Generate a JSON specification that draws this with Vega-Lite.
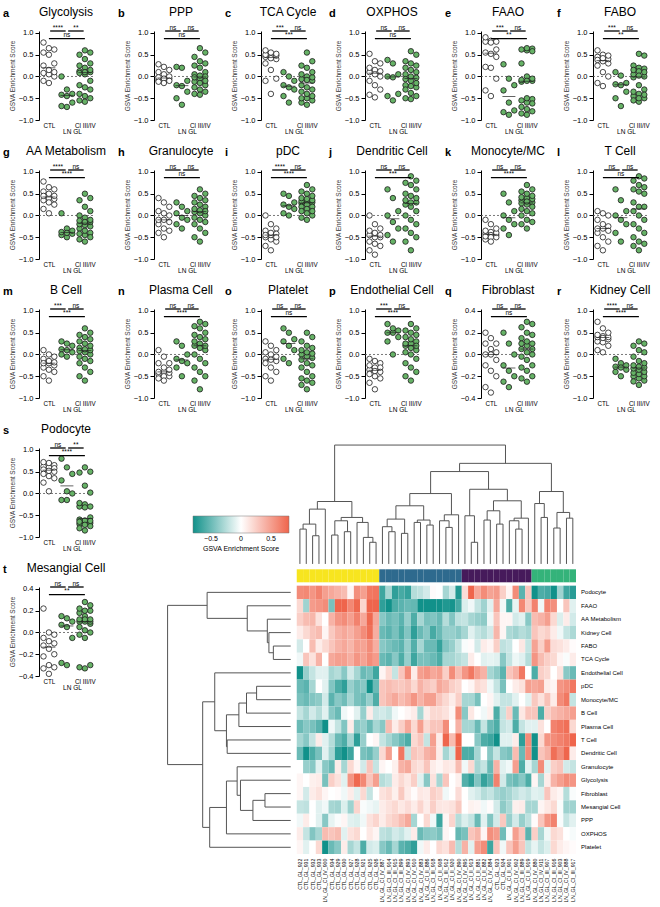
{
"$schema":"https://vega.github.io/schema/vega-lite/v6.json",
"padding":{"left":3,"top":6,"right":0,"bottom":0},
"background":"white",
"config":{"view":{"stroke":null},"font":"Liberation Sans","axis":{"domainColor":"#000","tickColor":"#000","labelColor":"#000"}},
"datasets":{
"feats":[
{"f":"POD","name":"Podocyte","L":"s","m":1,"r":0},{"f":"FAAO","name":"FAAO","L":"e","m":1,"r":1},{"f":"AA","name":"AA Metabolism","L":"g","m":1,"r":2},{"f":"KID","name":"Kidney Cell","L":"r","m":1,"r":3},{"f":"FABO","name":"FABO","L":"f","m":1,"r":4},{"f":"TCA","name":"TCA Cycle","L":"c","m":1,"r":5},{"f":"END","name":"Endothelial Cell","L":"p","m":1,"r":6},{"f":"PDC","name":"pDC","L":"i","m":1,"r":7},{"f":"MON","name":"Monocyte/MC","L":"k","m":1,"r":8},{"f":"BC","name":"B Cell","L":"m","m":1,"r":9},{"f":"PC","name":"Plasma Cell","L":"n","m":1,"r":10},{"f":"TC","name":"T Cell","L":"l","m":1,"r":11},{"f":"DC","name":"Dendritic Cell","L":"j","m":1,"r":12},{"f":"GRA","name":"Granulocyte","L":"h","m":1,"r":13},{"f":"GLY","name":"Glycolysis","L":"a","m":1,"r":14},{"f":"FIB","name":"Fibroblast","L":"q","m":0.4,"r":15},{"f":"MES","name":"Mesangial Cell","L":"t","m":0.4,"r":16},{"f":"PPP","name":"PPP","L":"b","m":1,"r":17},{"f":"OX","name":"OXPHOS","L":"d","m":1,"r":18},{"f":"PLT","name":"Platelet","L":"o","m":1,"r":19}
],
"samples":[
{"o":0,"s":922,"n":"CTL_GL_922","g":"CTL","k":1},{"o":1,"s":931,"n":"CTL_GL_931","g":"CTL","k":1},{"o":2,"s":932,"n":"CTL_GL_932","g":"CTL","k":1},{"o":3,"s":933,"n":"CTL_GL_933","g":"CTL","k":1},{"o":4,"s":900,"n":"LN_GL_CI_IV_900","g":"Cl III/IV","k":1},{"o":5,"s":934,"n":"CTL_GL_934","g":"CTL","k":1},{"o":6,"s":929,"n":"CTL_GL_929","g":"CTL","k":1},{"o":7,"s":930,"n":"CTL_GL_930","g":"CTL","k":1},{"o":8,"s":927,"n":"CTL_GL_927","g":"CTL","k":1},{"o":9,"s":928,"n":"CTL_GL_928","g":"CTL","k":1},{"o":10,"s":921,"n":"CTL_GL_921","g":"CTL","k":1},{"o":11,"s":925,"n":"CTL_GL_925","g":"CTL","k":1},{"o":12,"s":926,"n":"CTL_GL_926","g":"CTL","k":1},
{"o":13,"s":887,"n":"LN_GL_CI_IV_887","g":"Cl III/IV","k":2},{"o":14,"s":914,"n":"LN_GL_CI_III_914","g":"Cl III/IV","k":2},{"o":15,"s":915,"n":"LN_GL_CI_III_915","g":"Cl III/IV","k":2},{"o":16,"s":899,"n":"LN_GL_CI_III_899","g":"Cl III/IV","k":2},{"o":17,"s":893,"n":"LN_GL_CI_IV_893","g":"Cl III/IV","k":2},{"o":18,"s":910,"n":"LN_GL_CI_IV_910","g":"Cl III/IV","k":2},{"o":19,"s":883,"n":"LN_GL_CI_IV_883","g":"Cl III/IV","k":2},{"o":20,"s":886,"n":"LN_GL_CI_II_886","g":"Cl II","k":2},{"o":21,"s":918,"n":"LN_GL_CI_III_918","g":"Cl III/IV","k":2},{"o":22,"s":908,"n":"LN_GL_CI_II_908","g":"Cl II","k":2},{"o":23,"s":912,"n":"LN_GL_CI_III_912","g":"Cl III/IV","k":2},{"o":24,"s":920,"n":"LN_GL_CI_II_920","g":"Cl II","k":2},{"o":25,"s":890,"n":"LN_GL_CI_IV_890","g":"Cl III/IV","k":2},
{"o":26,"s":895,"n":"LN_GL_CI_IV_895","g":"Cl III/IV","k":3},{"o":27,"s":913,"n":"LN_GL_CI_II_913","g":"Cl II","k":3},{"o":28,"s":881,"n":"LN_GL_CI_II_881","g":"Cl II","k":3},{"o":29,"s":882,"n":"LN_GL_CI_II_882","g":"Cl II","k":3},{"o":30,"s":884,"n":"LN_GL_CI_IV_884","g":"Cl III/IV","k":3},{"o":31,"s":923,"n":"CTL_GL_923","g":"CTL","k":3},{"o":32,"s":924,"n":"CTL_GL_924","g":"CTL","k":3},{"o":33,"s":901,"n":"LN_GL_CI_II_901","g":"Cl II","k":3},{"o":34,"s":902,"n":"LN_GL_CI_IV_902","g":"Cl III/IV","k":3},{"o":35,"s":889,"n":"LN_GL_CI_III_889","g":"Cl III/IV","k":3},{"o":36,"s":919,"n":"LN_GL_CI_II_919","g":"Cl II","k":3},
{"o":37,"s":880,"n":"LN_GL_CI_IV_880","g":"Cl III/IV","k":4},{"o":38,"s":911,"n":"LN_GL_CI_IV_911","g":"Cl III/IV","k":4},{"o":39,"s":907,"n":"LN_GL_CI_III_907","g":"Cl III/IV","k":4},{"o":40,"s":916,"n":"LN_GL_CI_III_916","g":"Cl III/IV","k":4},{"o":41,"s":903,"n":"LN_GL_CI_III_903","g":"Cl III/IV","k":4},{"o":42,"s":888,"n":"LN_GL_CI_IV_888","g":"Cl III/IV","k":4},{"o":43,"s":917,"n":"LN_GL_CI_III_917","g":"Cl III/IV","k":4}
],
"cden":[
{"xl":0.5,"xr":1.5,"h":2.93,"hl":0,"hr":0},{"xl":2.5,"xr":3.5,"h":2.37,"hl":0,"hr":0},{"xl":1.0,"xr":3.0,"h":3.35,"hl":2.93,"hr":2.37},{"xl":2.0,"xr":4.5,"h":4.61,"hl":3.35,"hr":0},{"xl":5.5,"xr":6.5,"h":2.43,"hl":0,"hr":0},{"xl":7.5,"xr":8.5,"h":2.71,"hl":0,"hr":0},{"xl":6.0,"xr":8.0,"h":3.63,"hl":2.43,"hr":2.71},{"xl":11.5,"xr":12.5,"h":1.82,"hl":0,"hr":0},{"xl":10.5,"xr":12.0,"h":2.23,"hl":0,"hr":1.82},{"xl":9.5,"xr":11.25,"h":3.49,"hl":0,"hr":2.23},{"xl":7.0,"xr":10.375,"h":3.91,"hl":3.63,"hr":3.49},{"xl":3.25,"xr":8.6875,"h":5.25,"hl":4.61,"hr":3.91},
{"xl":14.5,"xr":15.5,"h":2.71,"hl":0,"hr":0},{"xl":13.5,"xr":15.0,"h":3.13,"hl":0,"hr":2.71},{"xl":16.5,"xr":17.5,"h":2.57,"hl":0,"hr":0},{"xl":14.25,"xr":17.0,"h":3.77,"hl":3.13,"hr":2.57},{"xl":18.5,"xr":19.5,"h":3.49,"hl":0,"hr":0},{"xl":20.5,"xr":21.5,"h":3.27,"hl":0,"hr":0},{"xl":19.0,"xr":21.0,"h":3.69,"hl":3.49,"hr":3.27},{"xl":15.625,"xr":20.0,"h":4.89,"hl":3.77,"hr":3.69},{"xl":23.5,"xr":24.5,"h":3.07,"hl":0,"hr":0},{"xl":22.5,"xr":24.0,"h":3.63,"hl":0,"hr":3.07},{"xl":23.25,"xr":25.5,"h":4.13,"hl":3.63,"hr":0},{"xl":17.8125,"xr":24.375,"h":5.92,"hl":4.89,"hr":4.13},
{"xl":27.5,"xr":28.5,"h":1.82,"hl":0,"hr":0},{"xl":26.5,"xr":28.0,"h":4.05,"hl":0,"hr":1.82},{"xl":29.5,"xr":30.5,"h":3.69,"hl":0,"hr":0},{"xl":31.5,"xr":32.5,"h":3.35,"hl":0,"hr":0},{"xl":30.0,"xr":32.0,"h":4.47,"hl":3.69,"hr":3.35},{"xl":34.5,"xr":35.5,"h":2.93,"hl":0,"hr":0},{"xl":33.5,"xr":35.0,"h":3.63,"hl":0,"hr":2.93},{"xl":34.25,"xr":36.5,"h":3.85,"hl":3.63,"hr":0},{"xl":31.0,"xr":35.375,"h":5.31,"hl":4.47,"hr":3.85},{"xl":27.25,"xr":33.1875,"h":6.28,"hl":4.05,"hr":5.31},
{"xl":38.5,"xr":39.5,"h":3.91,"hl":0,"hr":0},{"xl":37.5,"xr":39.0,"h":5.08,"hl":0,"hr":3.91},{"xl":40.5,"xr":41.5,"h":3.02,"hl":0,"hr":0},{"xl":42.5,"xr":43.5,"h":3.85,"hl":0,"hr":0},{"xl":41.0,"xr":43.0,"h":4.33,"hl":3.02,"hr":3.85},{"xl":38.25,"xr":42.0,"h":6.09,"hl":5.08,"hr":4.33},
{"xl":21.09375,"xr":30.21875,"h":7.77,"hl":5.92,"hr":6.28},{"xl":25.65625,"xr":40.125,"h":8.46,"hl":7.77,"hr":6.09},{"xl":5.96875,"xr":32.890625,"h":10,"hl":5.25,"hr":8.46}
],
"rden":[
{"yt":4.5,"yb":5.5,"h":1.41,"ht":0,"hb":0},{"yt":3.5,"yb":5.0,"h":1.77,"ht":0,"hb":1.41},{"yt":2.5,"yb":4.25,"h":1.90,"ht":0,"hb":1.77},{"yt":1.5,"yb":3.375,"h":3.53,"ht":0,"hb":1.90},{"yt":0.5,"yb":2.4375,"h":6.79,"ht":0,"hb":3.53},
{"yt":7.5,"yb":8.5,"h":2.77,"ht":0,"hb":0},{"yt":8.0,"yb":9.5,"h":3.59,"ht":2.77,"hb":0},{"yt":8.75,"yb":10.5,"h":4.21,"ht":3.59,"hb":0},{"yt":11.5,"yb":12.5,"h":5.16,"ht":0,"hb":0},{"yt":9.625,"yb":12.0,"h":5.22,"ht":4.21,"hb":5.16},{"yt":6.5,"yb":10.8125,"h":6.17,"ht":0,"hb":5.22},
{"yt":15.5,"yb":16.5,"h":2.09,"ht":0,"hb":0},{"yt":16.0,"yb":17.5,"h":3.07,"ht":2.09,"hb":0},{"yt":14.5,"yb":16.75,"h":4.08,"ht":0,"hb":3.07},{"yt":13.5,"yb":15.625,"h":4.35,"ht":0,"hb":4.08},{"yt":14.5625,"yb":18.5,"h":5.22,"ht":4.35,"hb":0},{"yt":16.53125,"yb":19.5,"h":6.58,"ht":5.22,"hb":0},
{"yt":8.65625,"yb":18.015625,"h":7.15,"ht":6.17,"hb":6.58},{"yt":1.46875,"yb":13.3359,"h":10,"ht":6.79,"hb":7.15}
],
"gsva":[
{"s":922,"f":"POD","v":0.6},{"s":931,"f":"POD","v":0.62},{"s":932,"f":"POD","v":0.55},{"s":933,"f":"POD","v":0.65},{"s":900,"f":"POD","v":0.5},{"s":934,"f":"POD","v":0.45},{"s":929,"f":"POD","v":0.4},{"s":930,"f":"POD","v":0.35},{"s":927,"f":"POD","v":0.05},{"s":928,"f":"POD","v":0.58},{"s":921,"f":"POD","v":0.5},{"s":925,"f":"POD","v":0.7},{"s":926,"f":"POD","v":0.72},{"s":887,"f":"POD","v":-0.65},{"s":914,"f":"POD","v":-0.3},{"s":915,"f":"POD","v":-0.7},{"s":899,"f":"POD","v":-0.62},{"s":893,"f":"POD","v":-0.68},{"s":910,"f":"POD","v":-0.25},{"s":883,"f":"POD","v":-0.22},{"s":886,"f":"POD","v":-0.15},{"s":918,"f":"POD","v":0.02},{"s":908,"f":"POD","v":0.0},{"s":912,"f":"POD","v":-0.3},{"s":920,"f":"POD","v":-0.15},{"s":890,"f":"POD","v":-0.75},{"s":895,"f":"POD","v":0.18},{"s":913,"f":"POD","v":0.8},{"s":881,"f":"POD","v":0.45},{"s":882,"f":"POD","v":0.6},{"s":884,"f":"POD","v":0.48},{"s":923,"f":"POD","v":0.52},{"s":924,"f":"POD","v":0.25},{"s":901,"f":"POD","v":0.05},{"s":902,"f":"POD","v":0.6},{"s":889,"f":"POD","v":-0.55},{"s":919,"f":"POD","v":0.3},{"s":880,"f":"POD","v":-0.85},{"s":911,"f":"POD","v":-0.6},{"s":907,"f":"POD","v":-0.63},{"s":916,"f":"POD","v":-0.8},{"s":903,"f":"POD","v":-0.32},{"s":888,"f":"POD","v":-0.65},{"s":917,"f":"POD","v":-0.72},
{"s":922,"f":"FAAO","v":0.2},{"s":931,"f":"FAAO","v":-0.32},{"s":932,"f":"FAAO","v":0.52},{"s":933,"f":"FAAO","v":0.55},{"s":900,"f":"FAAO","v":0.6},{"s":934,"f":"FAAO","v":-0.45},{"s":929,"f":"FAAO","v":0.82},{"s":930,"f":"FAAO","v":0.8},{"s":927,"f":"FAAO","v":0.62},{"s":928,"f":"FAAO","v":0.78},{"s":921,"f":"FAAO","v":0.22},{"s":925,"f":"FAAO","v":0.9},{"s":926,"f":"FAAO","v":0.8},{"s":887,"f":"FAAO","v":-0.7},{"s":914,"f":"FAAO","v":-0.85},{"s":915,"f":"FAAO","v":-0.6},{"s":899,"f":"FAAO","v":-0.55},{"s":893,"f":"FAAO","v":-0.5},{"s":910,"f":"FAAO","v":-0.52},{"s":883,"f":"FAAO","v":-0.88},{"s":886,"f":"FAAO","v":-0.82},{"s":918,"f":"FAAO","v":-0.8},{"s":908,"f":"FAAO","v":-0.88},{"s":912,"f":"FAAO","v":-0.75},{"s":920,"f":"FAAO","v":-0.78},{"s":890,"f":"FAAO","v":-0.62},{"s":895,"f":"FAAO","v":-0.12},{"s":913,"f":"FAAO","v":-0.05},{"s":881,"f":"FAAO","v":-0.2},{"s":882,"f":"FAAO","v":-0.32},{"s":884,"f":"FAAO","v":-0.1},{"s":923,"f":"FAAO","v":0.45},{"s":924,"f":"FAAO","v":-0.05},{"s":901,"f":"FAAO","v":-0.6},{"s":902,"f":"FAAO","v":-0.08},{"s":889,"f":"FAAO","v":0.62},{"s":919,"f":"FAAO","v":0.28},{"s":880,"f":"FAAO","v":0.65},{"s":911,"f":"FAAO","v":-0.05},{"s":907,"f":"FAAO","v":0.64},{"s":916,"f":"FAAO","v":0.58},{"s":903,"f":"FAAO","v":0.0},{"s":888,"f":"FAAO","v":0.3},{"s":917,"f":"FAAO","v":-0.1},
{"s":922,"f":"AA","v":0.25},{"s":931,"f":"AA","v":0.35},{"s":932,"f":"AA","v":0.38},{"s":933,"f":"AA","v":0.15},{"s":900,"f":"AA","v":0.0},{"s":934,"f":"AA","v":0.4},{"s":929,"f":"AA","v":0.55},{"s":930,"f":"AA","v":0.6},{"s":927,"f":"AA","v":0.5},{"s":928,"f":"AA","v":0.65},{"s":921,"f":"AA","v":0.45},{"s":925,"f":"AA","v":0.78},{"s":926,"f":"AA","v":0.45},{"s":887,"f":"AA","v":-0.4},{"s":914,"f":"AA","v":-0.5},{"s":915,"f":"AA","v":-0.45},{"s":899,"f":"AA","v":-0.55},{"s":893,"f":"AA","v":-0.35},{"s":910,"f":"AA","v":-0.6},{"s":883,"f":"AA","v":-0.3},{"s":886,"f":"AA","v":-0.45},{"s":918,"f":"AA","v":-0.42},{"s":908,"f":"AA","v":-0.5},{"s":912,"f":"AA","v":-0.25},{"s":920,"f":"AA","v":-0.42},{"s":890,"f":"AA","v":-0.22},{"s":895,"f":"AA","v":-0.2},{"s":913,"f":"AA","v":-0.3},{"s":881,"f":"AA","v":-0.35},{"s":882,"f":"AA","v":-0.38},{"s":884,"f":"AA","v":-0.05},{"s":923,"f":"AA","v":0.3},{"s":924,"f":"AA","v":0.05},{"s":901,"f":"AA","v":0.05},{"s":902,"f":"AA","v":-0.15},{"s":889,"f":"AA","v":-0.1},{"s":919,"f":"AA","v":-0.4},{"s":880,"f":"AA","v":0.35},{"s":911,"f":"AA","v":0.4},{"s":907,"f":"AA","v":0.5},{"s":916,"f":"AA","v":0.2},{"s":903,"f":"AA","v":-0.12},{"s":888,"f":"AA","v":0.1},{"s":917,"f":"AA","v":-0.15},
{"s":922,"f":"KID","v":0.1},{"s":931,"f":"KID","v":0.2},{"s":932,"f":"KID","v":0.3},{"s":933,"f":"KID","v":0.35},{"s":900,"f":"KID","v":0.05},{"s":934,"f":"KID","v":0.28},{"s":929,"f":"KID","v":0.4},{"s":930,"f":"KID","v":0.45},{"s":927,"f":"KID","v":0.4},{"s":928,"f":"KID","v":0.5},{"s":921,"f":"KID","v":0.6},{"s":925,"f":"KID","v":0.75},{"s":926,"f":"KID","v":0.42},{"s":887,"f":"KID","v":-0.5},{"s":914,"f":"KID","v":-0.55},{"s":915,"f":"KID","v":-0.45},{"s":899,"f":"KID","v":-0.6},{"s":893,"f":"KID","v":-0.42},{"s":910,"f":"KID","v":-0.7},{"s":883,"f":"KID","v":-0.5},{"s":886,"f":"KID","v":-0.4},{"s":918,"f":"KID","v":-0.62},{"s":908,"f":"KID","v":-0.5},{"s":912,"f":"KID","v":-0.35},{"s":920,"f":"KID","v":-0.35},{"s":890,"f":"KID","v":-0.4},{"s":895,"f":"KID","v":-0.3},{"s":913,"f":"KID","v":-0.1},{"s":881,"f":"KID","v":-0.2},{"s":882,"f":"KID","v":-0.25},{"s":884,"f":"KID","v":-0.15},{"s":923,"f":"KID","v":0.38},{"s":924,"f":"KID","v":0.05},{"s":901,"f":"KID","v":-0.28},{"s":902,"f":"KID","v":-0.32},{"s":889,"f":"KID","v":-0.25},{"s":919,"f":"KID","v":-0.3},{"s":880,"f":"KID","v":0.3},{"s":911,"f":"KID","v":0.2},{"s":907,"f":"KID","v":0.25},{"s":916,"f":"KID","v":0.1},{"s":903,"f":"KID","v":-0.05},{"s":888,"f":"KID","v":-0.2},{"s":917,"f":"KID","v":-0.28},
{"s":922,"f":"FABO","v":-0.15},{"s":931,"f":"FABO","v":0.0},{"s":932,"f":"FABO","v":0.35},{"s":933,"f":"FABO","v":0.1},{"s":900,"f":"FABO","v":0.2},{"s":934,"f":"FABO","v":0.3},{"s":929,"f":"FABO","v":0.4},{"s":930,"f":"FABO","v":0.45},{"s":927,"f":"FABO","v":0.38},{"s":928,"f":"FABO","v":0.5},{"s":921,"f":"FABO","v":0.48},{"s":925,"f":"FABO","v":0.6},{"s":926,"f":"FABO","v":0.42},{"s":887,"f":"FABO","v":-0.4},{"s":914,"f":"FABO","v":-0.45},{"s":915,"f":"FABO","v":-0.5},{"s":899,"f":"FABO","v":-0.55},{"s":893,"f":"FABO","v":-0.35},{"s":910,"f":"FABO","v":-0.58},{"s":883,"f":"FABO","v":-0.3},{"s":886,"f":"FABO","v":-0.5},{"s":918,"f":"FABO","v":-0.5},{"s":908,"f":"FABO","v":-0.68},{"s":912,"f":"FABO","v":-0.42},{"s":920,"f":"FABO","v":-0.35},{"s":890,"f":"FABO","v":-0.2},{"s":895,"f":"FABO","v":-0.02},{"s":913,"f":"FABO","v":0.02},{"s":881,"f":"FABO","v":-0.15},{"s":882,"f":"FABO","v":0.1},{"s":884,"f":"FABO","v":0.05},{"s":923,"f":"FABO","v":0.25},{"s":924,"f":"FABO","v":-0.22},{"s":901,"f":"FABO","v":-0.18},{"s":902,"f":"FABO","v":0.0},{"s":889,"f":"FABO","v":0.12},{"s":919,"f":"FABO","v":-0.2},{"s":880,"f":"FABO","v":0.48},{"s":911,"f":"FABO","v":0.25},{"s":907,"f":"FABO","v":0.52},{"s":916,"f":"FABO","v":0.18},{"s":903,"f":"FABO","v":0.15},{"s":888,"f":"FABO","v":0.1},{"s":917,"f":"FABO","v":0.02},
{"s":922,"f":"TCA","v":-0.05},{"s":931,"f":"TCA","v":0.3},{"s":932,"f":"TCA","v":0.15},{"s":933,"f":"TCA","v":0.4},{"s":900,"f":"TCA","v":0.0},{"s":934,"f":"TCA","v":0.45},{"s":929,"f":"TCA","v":0.5},{"s":930,"f":"TCA","v":0.5},{"s":927,"f":"TCA","v":0.42},{"s":928,"f":"TCA","v":0.55},{"s":921,"f":"TCA","v":0.48},{"s":925,"f":"TCA","v":0.6},{"s":926,"f":"TCA","v":0.52},{"s":887,"f":"TCA","v":-0.5},{"s":914,"f":"TCA","v":-0.55},{"s":915,"f":"TCA","v":-0.4},{"s":899,"f":"TCA","v":-0.6},{"s":893,"f":"TCA","v":-0.35},{"s":910,"f":"TCA","v":-0.65},{"s":883,"f":"TCA","v":-0.45},{"s":886,"f":"TCA","v":-0.45},{"s":918,"f":"TCA","v":-0.5},{"s":908,"f":"TCA","v":-0.6},{"s":912,"f":"TCA","v":-0.3},{"s":920,"f":"TCA","v":-0.3},{"s":890,"f":"TCA","v":-0.25},{"s":895,"f":"TCA","v":-0.2},{"s":913,"f":"TCA","v":0.1},{"s":881,"f":"TCA","v":0.0},{"s":882,"f":"TCA","v":-0.1},{"s":884,"f":"TCA","v":-0.08},{"s":923,"f":"TCA","v":-0.1},{"s":924,"f":"TCA","v":-0.4},{"s":901,"f":"TCA","v":-0.2},{"s":902,"f":"TCA","v":-0.06},{"s":889,"f":"TCA","v":-0.1},{"s":919,"f":"TCA","v":-0.25},{"s":880,"f":"TCA","v":0.55},{"s":911,"f":"TCA","v":0.35},{"s":907,"f":"TCA","v":0.25},{"s":916,"f":"TCA","v":0.2},{"s":903,"f":"TCA","v":0.05},{"s":888,"f":"TCA","v":-0.02},{"s":917,"f":"TCA","v":0.1},
{"s":922,"f":"END","v":-0.8},{"s":931,"f":"END","v":-0.35},{"s":932,"f":"END","v":-0.2},{"s":933,"f":"END","v":-0.1},{"s":900,"f":"END","v":-0.1},{"s":934,"f":"END","v":-0.3},{"s":929,"f":"END","v":-0.25},{"s":930,"f":"END","v":-0.4},{"s":927,"f":"END","v":-0.15},{"s":928,"f":"END","v":-0.3},{"s":921,"f":"END","v":-0.5},{"s":925,"f":"END","v":-0.45},{"s":926,"f":"END","v":-0.65},{"s":887,"f":"END","v":0.05},{"s":914,"f":"END","v":0.2},{"s":915,"f":"END","v":-0.2},{"s":899,"f":"END","v":0.3},{"s":893,"f":"END","v":0.6},{"s":910,"f":"END","v":0.1},{"s":883,"f":"END","v":0.5},{"s":886,"f":"END","v":0.55},{"s":918,"f":"END","v":0.45},{"s":908,"f":"END","v":0.5},{"s":912,"f":"END","v":0.25},{"s":920,"f":"END","v":0.6},{"s":890,"f":"END","v":0.35},{"s":895,"f":"END","v":0.55},{"s":913,"f":"END","v":0.7},{"s":881,"f":"END","v":0.5},{"s":882,"f":"END","v":0.4},{"s":884,"f":"END","v":-0.3},{"s":923,"f":"END","v":-0.38},{"s":924,"f":"END","v":-0.55},{"s":901,"f":"END","v":0.3},{"s":902,"f":"END","v":0.4},{"s":889,"f":"END","v":0.7},{"s":919,"f":"END","v":0.0},{"s":880,"f":"END","v":-0.6},{"s":911,"f":"END","v":0.25},{"s":907,"f":"END","v":0.2},{"s":916,"f":"END","v":0.0},{"s":903,"f":"END","v":0.15},{"s":888,"f":"END","v":-0.4},{"s":917,"f":"END","v":-0.5},
{"s":922,"f":"PDC","v":-0.5},{"s":931,"f":"PDC","v":-0.55},{"s":932,"f":"PDC","v":-0.3},{"s":933,"f":"PDC","v":0.0},{"s":900,"f":"PDC","v":-0.1},{"s":934,"f":"PDC","v":-0.42},{"s":929,"f":"PDC","v":-0.6},{"s":930,"f":"PDC","v":-0.7},{"s":927,"f":"PDC","v":-0.35},{"s":928,"f":"PDC","v":-0.45},{"s":921,"f":"PDC","v":-0.4},{"s":925,"f":"PDC","v":-0.8},{"s":926,"f":"PDC","v":-0.5},{"s":887,"f":"PDC","v":0.3},{"s":914,"f":"PDC","v":0.35},{"s":915,"f":"PDC","v":0.3},{"s":899,"f":"PDC","v":0.28},{"s":893,"f":"PDC","v":0.33},{"s":910,"f":"PDC","v":0.2},{"s":883,"f":"PDC","v":0.4},{"s":886,"f":"PDC","v":0.3},{"s":918,"f":"PDC","v":0.25},{"s":908,"f":"PDC","v":0.45},{"s":912,"f":"PDC","v":0.38},{"s":920,"f":"PDC","v":0.25},{"s":890,"f":"PDC","v":0.2},{"s":895,"f":"PDC","v":0.0},{"s":913,"f":"PDC","v":0.05},{"s":881,"f":"PDC","v":0.2},{"s":882,"f":"PDC","v":0.15},{"s":884,"f":"PDC","v":-0.05},{"s":923,"f":"PDC","v":-0.2},{"s":924,"f":"PDC","v":-0.45},{"s":901,"f":"PDC","v":0.0},{"s":902,"f":"PDC","v":0.1},{"s":889,"f":"PDC","v":0.15},{"s":919,"f":"PDC","v":0.5},{"s":880,"f":"PDC","v":0.45},{"s":911,"f":"PDC","v":0.5},{"s":907,"f":"PDC","v":0.1},{"s":916,"f":"PDC","v":0.05},{"s":903,"f":"PDC","v":0.55},{"s":888,"f":"PDC","v":0.6},{"s":917,"f":"PDC","v":0.7},
{"s":922,"f":"MON","v":-0.45},{"s":931,"f":"MON","v":-0.5},{"s":932,"f":"MON","v":-0.42},{"s":933,"f":"MON","v":-0.38},{"s":900,"f":"MON","v":-0.15},{"s":934,"f":"MON","v":-0.55},{"s":929,"f":"MON","v":-0.4},{"s":930,"f":"MON","v":-0.48},{"s":927,"f":"MON","v":-0.3},{"s":928,"f":"MON","v":-0.45},{"s":921,"f":"MON","v":-0.5},{"s":925,"f":"MON","v":-0.35},{"s":926,"f":"MON","v":-0.6},{"s":887,"f":"MON","v":0.3},{"s":914,"f":"MON","v":0.38},{"s":915,"f":"MON","v":0.45},{"s":899,"f":"MON","v":0.35},{"s":893,"f":"MON","v":0.42},{"s":910,"f":"MON","v":0.55},{"s":883,"f":"MON","v":0.4},{"s":886,"f":"MON","v":0.5},{"s":918,"f":"MON","v":0.5},{"s":908,"f":"MON","v":0.3},{"s":912,"f":"MON","v":0.2},{"s":920,"f":"MON","v":0.1},{"s":890,"f":"MON","v":0.25},{"s":895,"f":"MON","v":-0.3},{"s":913,"f":"MON","v":-0.3},{"s":881,"f":"MON","v":-0.45},{"s":882,"f":"MON","v":0.0},{"s":884,"f":"MON","v":0.05},{"s":923,"f":"MON","v":-0.1},{"s":924,"f":"MON","v":-0.2},{"s":901,"f":"MON","v":-0.2},{"s":902,"f":"MON","v":-0.1},{"s":889,"f":"MON","v":0.0},{"s":919,"f":"MON","v":-0.1},{"s":880,"f":"MON","v":0.28},{"s":911,"f":"MON","v":0.15},{"s":907,"f":"MON","v":0.32},{"s":916,"f":"MON","v":0.1},{"s":903,"f":"MON","v":0.6},{"s":888,"f":"MON","v":0.7},{"s":917,"f":"MON","v":-0.2},
{"s":922,"f":"BC","v":-0.2},{"s":931,"f":"BC","v":-0.3},{"s":932,"f":"BC","v":-0.15},{"s":933,"f":"BC","v":-0.25},{"s":900,"f":"BC","v":-0.1},{"s":934,"f":"BC","v":-0.4},{"s":929,"f":"BC","v":-0.5},{"s":930,"f":"BC","v":-0.05},{"s":927,"f":"BC","v":0.0},{"s":928,"f":"BC","v":-0.1},{"s":921,"f":"BC","v":-0.35},{"s":925,"f":"BC","v":0.1},{"s":926,"f":"BC","v":-0.18},{"s":887,"f":"BC","v":-0.15},{"s":914,"f":"BC","v":-0.2},{"s":915,"f":"BC","v":-0.05},{"s":899,"f":"BC","v":0.0},{"s":893,"f":"BC","v":0.05},{"s":910,"f":"BC","v":0.1},{"s":883,"f":"BC","v":-0.3},{"s":886,"f":"BC","v":0.1},{"s":918,"f":"BC","v":0.2},{"s":908,"f":"BC","v":0.2},{"s":912,"f":"BC","v":0.15},{"s":920,"f":"BC","v":0.05},{"s":890,"f":"BC","v":0.6},{"s":895,"f":"BC","v":-0.4},{"s":913,"f":"BC","v":0.12},{"s":881,"f":"BC","v":0.0},{"s":882,"f":"BC","v":-0.05},{"s":884,"f":"BC","v":0.08},{"s":923,"f":"BC","v":-0.6},{"s":924,"f":"BC","v":-0.2},{"s":901,"f":"BC","v":0.25},{"s":902,"f":"BC","v":-0.5},{"s":889,"f":"BC","v":0.12},{"s":919,"f":"BC","v":0.3},{"s":880,"f":"BC","v":0.3},{"s":911,"f":"BC","v":-0.6},{"s":907,"f":"BC","v":0.25},{"s":916,"f":"BC","v":0.35},{"s":903,"f":"BC","v":0.4},{"s":888,"f":"BC","v":0.45},{"s":917,"f":"BC","v":0.5},
{"s":922,"f":"PC","v":-0.5},{"s":931,"f":"PC","v":-0.4},{"s":932,"f":"PC","v":-0.45},{"s":933,"f":"PC","v":-0.55},{"s":900,"f":"PC","v":-0.8},{"s":934,"f":"PC","v":-0.05},{"s":929,"f":"PC","v":-0.2},{"s":930,"f":"PC","v":-0.42},{"s":927,"f":"PC","v":0.1},{"s":928,"f":"PC","v":-0.4},{"s":921,"f":"PC","v":-0.35},{"s":925,"f":"PC","v":-0.5},{"s":926,"f":"PC","v":-0.3},{"s":887,"f":"PC","v":-0.4},{"s":914,"f":"PC","v":0.35},{"s":915,"f":"PC","v":0.1},{"s":899,"f":"PC","v":0.25},{"s":893,"f":"PC","v":0.45},{"s":910,"f":"PC","v":0.2},{"s":883,"f":"PC","v":0.5},{"s":886,"f":"PC","v":0.2},{"s":918,"f":"PC","v":0.3},{"s":908,"f":"PC","v":0.3},{"s":912,"f":"PC","v":0.6},{"s":920,"f":"PC","v":0.0},{"s":890,"f":"PC","v":0.4},{"s":895,"f":"PC","v":-0.3},{"s":913,"f":"PC","v":-0.3},{"s":881,"f":"PC","v":-0.5},{"s":882,"f":"PC","v":-0.2},{"s":884,"f":"PC","v":-0.5},{"s":923,"f":"PC","v":-0.6},{"s":924,"f":"PC","v":-0.2},{"s":901,"f":"PC","v":-0.15},{"s":902,"f":"PC","v":-0.6},{"s":889,"f":"PC","v":-0.2},{"s":919,"f":"PC","v":-0.1},{"s":880,"f":"PC","v":-0.1},{"s":911,"f":"PC","v":0.15},{"s":907,"f":"PC","v":0.0},{"s":916,"f":"PC","v":0.65},{"s":903,"f":"PC","v":0.7},{"s":888,"f":"PC","v":0.75},{"s":917,"f":"PC","v":0.2},
{"s":922,"f":"TC","v":-0.3},{"s":931,"f":"TC","v":-0.4},{"s":932,"f":"TC","v":-0.2},{"s":933,"f":"TC","v":0.1},{"s":900,"f":"TC","v":-0.1},{"s":934,"f":"TC","v":-0.25},{"s":929,"f":"TC","v":-0.5},{"s":930,"f":"TC","v":-0.6},{"s":927,"f":"TC","v":-0.3},{"s":928,"f":"TC","v":-0.7},{"s":921,"f":"TC","v":-0.35},{"s":925,"f":"TC","v":0.0},{"s":926,"f":"TC","v":0.05},{"s":887,"f":"TC","v":-0.2},{"s":914,"f":"TC","v":-0.3},{"s":915,"f":"TC","v":-0.4},{"s":899,"f":"TC","v":-0.5},{"s":893,"f":"TC","v":-0.6},{"s":910,"f":"TC","v":0.2},{"s":883,"f":"TC","v":0.3},{"s":886,"f":"TC","v":-0.2},{"s":918,"f":"TC","v":0.5},{"s":908,"f":"TC","v":0.1},{"s":912,"f":"TC","v":0.85},{"s":920,"f":"TC","v":0.35},{"s":890,"f":"TC","v":0.9},{"s":895,"f":"TC","v":0.0},{"s":913,"f":"TC","v":0.0},{"s":881,"f":"TC","v":-0.4},{"s":882,"f":"TC","v":-0.6},{"s":884,"f":"TC","v":-0.65},{"s":923,"f":"TC","v":-0.8},{"s":924,"f":"TC","v":-0.1},{"s":901,"f":"TC","v":-0.1},{"s":902,"f":"TC","v":0.1},{"s":889,"f":"TC","v":-0.7},{"s":919,"f":"TC","v":0.6},{"s":880,"f":"TC","v":-0.8},{"s":911,"f":"TC","v":0.2},{"s":907,"f":"TC","v":0.55},{"s":916,"f":"TC","v":0.6},{"s":903,"f":"TC","v":0.65},{"s":888,"f":"TC","v":0.7},{"s":917,"f":"TC","v":0.8},
{"s":922,"f":"DC","v":-0.5},{"s":931,"f":"DC","v":-0.8},{"s":932,"f":"DC","v":-0.6},{"s":933,"f":"DC","v":-0.45},{"s":900,"f":"DC","v":-0.1},{"s":934,"f":"DC","v":-0.3},{"s":929,"f":"DC","v":-0.7},{"s":930,"f":"DC","v":-0.9},{"s":927,"f":"DC","v":-0.65},{"s":928,"f":"DC","v":0.0},{"s":921,"f":"DC","v":-0.45},{"s":925,"f":"DC","v":-0.5},{"s":926,"f":"DC","v":-0.35},{"s":887,"f":"DC","v":0.2},{"s":914,"f":"DC","v":0.5},{"s":915,"f":"DC","v":0.0},{"s":899,"f":"DC","v":0.7},{"s":893,"f":"DC","v":-0.2},{"s":910,"f":"DC","v":0.3},{"s":883,"f":"DC","v":0.25},{"s":886,"f":"DC","v":0.4},{"s":918,"f":"DC","v":0.45},{"s":908,"f":"DC","v":0.1},{"s":912,"f":"DC","v":-0.3},{"s":920,"f":"DC","v":-0.15},{"s":890,"f":"DC","v":0.8},{"s":895,"f":"DC","v":-0.6},{"s":913,"f":"DC","v":-0.6},{"s":881,"f":"DC","v":-0.3},{"s":882,"f":"DC","v":0.0},{"s":884,"f":"DC","v":-0.4},{"s":923,"f":"DC","v":-0.2},{"s":924,"f":"DC","v":-0.4},{"s":901,"f":"DC","v":-0.45},{"s":902,"f":"DC","v":0.35},{"s":889,"f":"DC","v":-0.5},{"s":919,"f":"DC","v":0.6},{"s":880,"f":"DC","v":-0.8},{"s":911,"f":"DC","v":0.3},{"s":907,"f":"DC","v":0.4},{"s":916,"f":"DC","v":0.75},{"s":903,"f":"DC","v":0.6},{"s":888,"f":"DC","v":0.9},{"s":917,"f":"DC","v":0.1},
{"s":922,"f":"GRA","v":0.0},{"s":931,"f":"GRA","v":-0.35},{"s":932,"f":"GRA","v":-0.4},{"s":933,"f":"GRA","v":-0.1},{"s":900,"f":"GRA","v":-0.4},{"s":934,"f":"GRA","v":-0.5},{"s":929,"f":"GRA","v":0.1},{"s":930,"f":"GRA","v":-0.3},{"s":927,"f":"GRA","v":0.2},{"s":928,"f":"GRA","v":0.05},{"s":921,"f":"GRA","v":-0.15},{"s":925,"f":"GRA","v":0.3},{"s":926,"f":"GRA","v":-0.2},{"s":887,"f":"GRA","v":0.05},{"s":914,"f":"GRA","v":0.0},{"s":915,"f":"GRA","v":0.08},{"s":899,"f":"GRA","v":0.4},{"s":893,"f":"GRA","v":0.45},{"s":910,"f":"GRA","v":0.2},{"s":883,"f":"GRA","v":0.15},{"s":886,"f":"GRA","v":0.3},{"s":918,"f":"GRA","v":0.1},{"s":908,"f":"GRA","v":0.05},{"s":912,"f":"GRA","v":0.12},{"s":920,"f":"GRA","v":0.1},{"s":890,"f":"GRA","v":0.35},{"s":895,"f":"GRA","v":-0.05},{"s":913,"f":"GRA","v":0.2},{"s":881,"f":"GRA","v":-0.3},{"s":882,"f":"GRA","v":-0.2},{"s":884,"f":"GRA","v":-0.5},{"s":923,"f":"GRA","v":0.4},{"s":924,"f":"GRA","v":-0.1},{"s":901,"f":"GRA","v":-0.05},{"s":902,"f":"GRA","v":0.5},{"s":889,"f":"GRA","v":-0.6},{"s":919,"f":"GRA","v":-0.1},{"s":880,"f":"GRA","v":-0.3},{"s":911,"f":"GRA","v":0.6},{"s":907,"f":"GRA","v":-0.1},{"s":916,"f":"GRA","v":0.25},{"s":903,"f":"GRA","v":0.3},{"s":888,"f":"GRA","v":-0.15},{"s":917,"f":"GRA","v":-0.2},
{"s":922,"f":"GLY","v":0.05},{"s":931,"f":"GLY","v":0.0},{"s":932,"f":"GLY","v":0.08},{"s":933,"f":"GLY","v":0.1},{"s":900,"f":"GLY","v":-0.45},{"s":934,"f":"GLY","v":0.25},{"s":929,"f":"GLY","v":0.15},{"s":930,"f":"GLY","v":-0.1},{"s":927,"f":"GLY","v":0.55},{"s":928,"f":"GLY","v":0.78},{"s":921,"f":"GLY","v":0.62},{"s":925,"f":"GLY","v":0.3},{"s":926,"f":"GLY","v":0.5},{"s":887,"f":"GLY","v":-0.25},{"s":914,"f":"GLY","v":-0.2},{"s":915,"f":"GLY","v":0.1},{"s":899,"f":"GLY","v":0.2},{"s":893,"f":"GLY","v":0.12},{"s":910,"f":"GLY","v":0.25},{"s":883,"f":"GLY","v":-0.1},{"s":886,"f":"GLY","v":-0.4},{"s":918,"f":"GLY","v":0.15},{"s":908,"f":"GLY","v":-0.3},{"s":912,"f":"GLY","v":0.3},{"s":920,"f":"GLY","v":0.0},{"s":890,"f":"GLY","v":0.08},{"s":895,"f":"GLY","v":-0.58},{"s":913,"f":"GLY","v":-0.7},{"s":881,"f":"GLY","v":-0.42},{"s":882,"f":"GLY","v":-0.68},{"s":884,"f":"GLY","v":-0.55},{"s":923,"f":"GLY","v":0.65},{"s":924,"f":"GLY","v":-0.15},{"s":901,"f":"GLY","v":-0.45},{"s":902,"f":"GLY","v":-0.5},{"s":889,"f":"GLY","v":-0.4},{"s":919,"f":"GLY","v":-0.6},{"s":880,"f":"GLY","v":0.05},{"s":911,"f":"GLY","v":-0.3},{"s":907,"f":"GLY","v":0.1},{"s":916,"f":"GLY","v":0.4},{"s":903,"f":"GLY","v":0.5},{"s":888,"f":"GLY","v":0.6},{"s":917,"f":"GLY","v":0.55},
{"s":922,"f":"FIB","v":0.05},{"s":931,"f":"FIB","v":-0.15},{"s":932,"f":"FIB","v":0.1},{"s":933,"f":"FIB","v":0.15},{"s":900,"f":"FIB","v":0.05},{"s":934,"f":"FIB","v":0.0},{"s":929,"f":"FIB","v":0.02},{"s":930,"f":"FIB","v":-0.05},{"s":927,"f":"FIB","v":0.1},{"s":928,"f":"FIB","v":-0.1},{"s":921,"f":"FIB","v":0.2},{"s":925,"f":"FIB","v":-0.2},{"s":926,"f":"FIB","v":0.0},{"s":887,"f":"FIB","v":0.15},{"s":914,"f":"FIB","v":0.2},{"s":915,"f":"FIB","v":0.08},{"s":899,"f":"FIB","v":0.28},{"s":893,"f":"FIB","v":0.1},{"s":910,"f":"FIB","v":0.02},{"s":883,"f":"FIB","v":0.12},{"s":886,"f":"FIB","v":0.1},{"s":918,"f":"FIB","v":0.25},{"s":908,"f":"FIB","v":0.2},{"s":912,"f":"FIB","v":-0.05},{"s":920,"f":"FIB","v":0.0},{"s":890,"f":"FIB","v":0.18},{"s":895,"f":"FIB","v":0.0},{"s":913,"f":"FIB","v":-0.1},{"s":881,"f":"FIB","v":-0.15},{"s":882,"f":"FIB","v":-0.25},{"s":884,"f":"FIB","v":-0.2},{"s":923,"f":"FIB","v":-0.3},{"s":924,"f":"FIB","v":-0.35},{"s":901,"f":"FIB","v":-0.3},{"s":902,"f":"FIB","v":-0.22},{"s":889,"f":"FIB","v":-0.15},{"s":919,"f":"FIB","v":-0.2},{"s":880,"f":"FIB","v":-0.1},{"s":911,"f":"FIB","v":-0.12},{"s":907,"f":"FIB","v":0.3},{"s":916,"f":"FIB","v":0.1},{"s":903,"f":"FIB","v":0.05},{"s":888,"f":"FIB","v":-0.25},{"s":917,"f":"FIB","v":-0.02},
{"s":922,"f":"MES","v":-0.2},{"s":931,"f":"MES","v":-0.22},{"s":932,"f":"MES","v":0.0},{"s":933,"f":"MES","v":-0.1},{"s":900,"f":"MES","v":-0.05},{"s":934,"f":"MES","v":-0.3},{"s":929,"f":"MES","v":-0.32},{"s":930,"f":"MES","v":-0.12},{"s":927,"f":"MES","v":-0.33},{"s":928,"f":"MES","v":0.22},{"s":921,"f":"MES","v":-0.02},{"s":925,"f":"MES","v":-0.05},{"s":926,"f":"MES","v":-0.08},{"s":887,"f":"MES","v":0.1},{"s":914,"f":"MES","v":0.15},{"s":915,"f":"MES","v":0.2},{"s":899,"f":"MES","v":0.12},{"s":893,"f":"MES","v":0.18},{"s":910,"f":"MES","v":0.1},{"s":883,"f":"MES","v":0.22},{"s":886,"f":"MES","v":0.1},{"s":918,"f":"MES","v":0.25},{"s":908,"f":"MES","v":0.13},{"s":912,"f":"MES","v":0.12},{"s":920,"f":"MES","v":0.15},{"s":890,"f":"MES","v":0.28},{"s":895,"f":"MES","v":0.0},{"s":913,"f":"MES","v":0.07},{"s":881,"f":"MES","v":0.05},{"s":882,"f":"MES","v":-0.05},{"s":884,"f":"MES","v":0.02},{"s":923,"f":"MES","v":-0.15},{"s":924,"f":"MES","v":-0.38},{"s":901,"f":"MES","v":-0.28},{"s":902,"f":"MES","v":0.08},{"s":889,"f":"MES","v":0.1},{"s":919,"f":"MES","v":-0.3},{"s":880,"f":"MES","v":-0.3},{"s":911,"f":"MES","v":0.05},{"s":907,"f":"MES","v":0.12},{"s":916,"f":"MES","v":0.2},{"s":903,"f":"MES","v":-0.02},{"s":888,"f":"MES","v":-0.33},{"s":917,"f":"MES","v":-0.32},
{"s":922,"f":"PPP","v":-0.05},{"s":931,"f":"PPP","v":0.1},{"s":932,"f":"PPP","v":0.0},{"s":933,"f":"PPP","v":-0.1},{"s":900,"f":"PPP","v":-0.4},{"s":934,"f":"PPP","v":-0.08},{"s":929,"f":"PPP","v":-0.02},{"s":930,"f":"PPP","v":0.05},{"s":927,"f":"PPP","v":-0.1},{"s":928,"f":"PPP","v":-0.12},{"s":921,"f":"PPP","v":-0.05},{"s":925,"f":"PPP","v":0.15},{"s":926,"f":"PPP","v":0.22},{"s":887,"f":"PPP","v":0.1},{"s":914,"f":"PPP","v":0.2},{"s":915,"f":"PPP","v":0.25},{"s":899,"f":"PPP","v":0.35},{"s":893,"f":"PPP","v":0.45},{"s":910,"f":"PPP","v":-0.3},{"s":883,"f":"PPP","v":0.0},{"s":886,"f":"PPP","v":0.2},{"s":918,"f":"PPP","v":-0.05},{"s":908,"f":"PPP","v":-0.65},{"s":912,"f":"PPP","v":0.05},{"s":920,"f":"PPP","v":0.22},{"s":890,"f":"PPP","v":-0.25},{"s":895,"f":"PPP","v":-0.12},{"s":913,"f":"PPP","v":-0.2},{"s":881,"f":"PPP","v":-0.5},{"s":882,"f":"PPP","v":-0.1},{"s":884,"f":"PPP","v":-0.42},{"s":923,"f":"PPP","v":-0.15},{"s":924,"f":"PPP","v":0.28},{"s":901,"f":"PPP","v":-0.35},{"s":902,"f":"PPP","v":-0.15},{"s":889,"f":"PPP","v":-0.35},{"s":919,"f":"PPP","v":-0.22},{"s":880,"f":"PPP","v":0.02},{"s":911,"f":"PPP","v":0.3},{"s":907,"f":"PPP","v":0.55},{"s":916,"f":"PPP","v":0.65},{"s":903,"f":"PPP","v":-0.02},{"s":888,"f":"PPP","v":-0.2},{"s":917,"f":"PPP","v":-0.1},
{"s":922,"f":"OX","v":0.1},{"s":931,"f":"OX","v":-0.2},{"s":932,"f":"OX","v":-0.42},{"s":933,"f":"OX","v":-0.3},{"s":900,"f":"OX","v":0.35},{"s":934,"f":"OX","v":0.3},{"s":929,"f":"OX","v":0.35},{"s":930,"f":"OX","v":-0.1},{"s":927,"f":"OX","v":0.15},{"s":928,"f":"OX","v":0.2},{"s":921,"f":"OX","v":0.0},{"s":925,"f":"OX","v":0.12},{"s":926,"f":"OX","v":0.05},{"s":887,"f":"OX","v":-0.22},{"s":914,"f":"OX","v":-0.25},{"s":915,"f":"OX","v":-0.15},{"s":899,"f":"OX","v":-0.2},{"s":893,"f":"OX","v":-0.1},{"s":910,"f":"OX","v":0.1},{"s":883,"f":"OX","v":-0.5},{"s":886,"f":"OX","v":-0.4},{"s":918,"f":"OX","v":-0.38},{"s":908,"f":"OX","v":-0.45},{"s":912,"f":"OX","v":0.05},{"s":920,"f":"OX","v":0.0},{"s":890,"f":"OX","v":-0.52},{"s":895,"f":"OX","v":-0.45},{"s":913,"f":"OX","v":0.3},{"s":881,"f":"OX","v":0.38},{"s":882,"f":"OX","v":0.05},{"s":884,"f":"OX","v":0.58},{"s":923,"f":"OX","v":0.52},{"s":924,"f":"OX","v":-0.48},{"s":901,"f":"OX","v":-0.02},{"s":902,"f":"OX","v":0.5},{"s":889,"f":"OX","v":0.3},{"s":919,"f":"OX","v":-0.55},{"s":880,"f":"OX","v":0.25},{"s":911,"f":"OX","v":-0.3},{"s":907,"f":"OX","v":-0.06},{"s":916,"f":"OX","v":0.2},{"s":903,"f":"OX","v":0.15},{"s":888,"f":"OX","v":0.0},{"s":917,"f":"OX","v":-0.03},
{"s":922,"f":"PLT","v":0.05},{"s":931,"f":"PLT","v":-0.1},{"s":932,"f":"PLT","v":0.0},{"s":933,"f":"PLT","v":0.2},{"s":900,"f":"PLT","v":-0.8},{"s":934,"f":"PLT","v":-0.5},{"s":929,"f":"PLT","v":-0.4},{"s":930,"f":"PLT","v":0.1},{"s":927,"f":"PLT","v":-0.3},{"s":928,"f":"PLT","v":-0.2},{"s":921,"f":"PLT","v":-0.6},{"s":925,"f":"PLT","v":-0.15},{"s":926,"f":"PLT","v":-0.12},{"s":887,"f":"PLT","v":-0.4},{"s":914,"f":"PLT","v":-0.5},{"s":915,"f":"PLT","v":-0.3},{"s":899,"f":"PLT","v":-0.55},{"s":893,"f":"PLT","v":-0.6},{"s":910,"f":"PLT","v":-0.7},{"s":883,"f":"PLT","v":-0.05},{"s":886,"f":"PLT","v":0.1},{"s":918,"f":"PLT","v":0.0},{"s":908,"f":"PLT","v":0.2},{"s":912,"f":"PLT","v":0.15},{"s":920,"f":"PLT","v":0.35},{"s":890,"f":"PLT","v":-0.25},{"s":895,"f":"PLT","v":0.4},{"s":913,"f":"PLT","v":-0.1},{"s":881,"f":"PLT","v":0.5},{"s":882,"f":"PLT","v":0.6},{"s":884,"f":"PLT","v":-0.65},{"s":923,"f":"PLT","v":0.3},{"s":924,"f":"PLT","v":-0.05},{"s":901,"f":"PLT","v":0.3},{"s":902,"f":"PLT","v":0.5},{"s":889,"f":"PLT","v":0.3},{"s":919,"f":"PLT","v":-0.2},{"s":880,"f":"PLT","v":-0.08},{"s":911,"f":"PLT","v":-0.2},{"s":907,"f":"PLT","v":-0.12},{"s":916,"f":"PLT","v":0.2},{"s":903,"f":"PLT","v":0.1},{"s":888,"f":"PLT","v":0.05},{"s":917,"f":"PLT","v":0.02},
{"f":"GLY","a":"CTL","b":"Cl II","p":"****"},{"f":"GLY","a":"Cl II","b":"Cl III/IV","p":"**"},{"f":"GLY","a":"CTL","b":"Cl III/IV","p":"ns"},
{"f":"PPP","a":"CTL","b":"Cl II","p":"ns"},{"f":"PPP","a":"Cl II","b":"Cl III/IV","p":"ns"},{"f":"PPP","a":"CTL","b":"Cl III/IV","p":"ns"},
{"f":"TCA","a":"CTL","b":"Cl II","p":"***"},{"f":"TCA","a":"Cl II","b":"Cl III/IV","p":"ns"},{"f":"TCA","a":"CTL","b":"Cl III/IV","p":"***"},
{"f":"OX","a":"CTL","b":"Cl II","p":"ns"},{"f":"OX","a":"Cl II","b":"Cl III/IV","p":"ns"},{"f":"OX","a":"CTL","b":"Cl III/IV","p":"ns"},
{"f":"FAAO","a":"CTL","b":"Cl II","p":"***"},{"f":"FAAO","a":"Cl II","b":"Cl III/IV","p":"ns"},{"f":"FAAO","a":"CTL","b":"Cl III/IV","p":"**"},
{"f":"FABO","a":"CTL","b":"Cl II","p":"***"},{"f":"FABO","a":"Cl II","b":"Cl III/IV","p":"ns"},{"f":"FABO","a":"CTL","b":"Cl III/IV","p":"**"},
{"f":"AA","a":"CTL","b":"Cl II","p":"****"},{"f":"AA","a":"Cl II","b":"Cl III/IV","p":"ns"},{"f":"AA","a":"CTL","b":"Cl III/IV","p":"****"},
{"f":"GRA","a":"CTL","b":"Cl II","p":"ns"},{"f":"GRA","a":"Cl II","b":"Cl III/IV","p":"ns"},{"f":"GRA","a":"CTL","b":"Cl III/IV","p":"ns"},
{"f":"PDC","a":"CTL","b":"Cl II","p":"****"},{"f":"PDC","a":"Cl II","b":"Cl III/IV","p":"ns"},{"f":"PDC","a":"CTL","b":"Cl III/IV","p":"****"},
{"f":"DC","a":"CTL","b":"Cl II","p":"ns"},{"f":"DC","a":"Cl II","b":"Cl III/IV","p":"ns"},{"f":"DC","a":"CTL","b":"Cl III/IV","p":"***"},
{"f":"MON","a":"CTL","b":"Cl II","p":"ns"},{"f":"MON","a":"Cl II","b":"Cl III/IV","p":"ns"},{"f":"MON","a":"CTL","b":"Cl III/IV","p":"****"},
{"f":"TC","a":"CTL","b":"Cl II","p":"ns"},{"f":"TC","a":"Cl II","b":"Cl III/IV","p":"ns"},{"f":"TC","a":"CTL","b":"Cl III/IV","p":"ns"},
{"f":"BC","a":"CTL","b":"Cl II","p":"***"},{"f":"BC","a":"Cl II","b":"Cl III/IV","p":"ns"},{"f":"BC","a":"CTL","b":"Cl III/IV","p":"***"},
{"f":"PC","a":"CTL","b":"Cl II","p":"ns"},{"f":"PC","a":"Cl II","b":"Cl III/IV","p":"ns"},{"f":"PC","a":"CTL","b":"Cl III/IV","p":"****"},
{"f":"PLT","a":"CTL","b":"Cl II","p":"ns"},{"f":"PLT","a":"Cl II","b":"Cl III/IV","p":"ns"},{"f":"PLT","a":"CTL","b":"Cl III/IV","p":"ns"},
{"f":"END","a":"CTL","b":"Cl II","p":"***"},{"f":"END","a":"Cl II","b":"Cl III/IV","p":"ns"},{"f":"END","a":"CTL","b":"Cl III/IV","p":"****"},
{"f":"FIB","a":"CTL","b":"Cl II","p":"ns"},{"f":"FIB","a":"Cl II","b":"Cl III/IV","p":"ns"},{"f":"FIB","a":"CTL","b":"Cl III/IV","p":"ns"},
{"f":"KID","a":"CTL","b":"Cl II","p":"****"},{"f":"KID","a":"Cl II","b":"Cl III/IV","p":"ns"},{"f":"KID","a":"CTL","b":"Cl III/IV","p":"****"},
{"f":"POD","a":"CTL","b":"Cl II","p":"ns"},{"f":"POD","a":"Cl II","b":"Cl III/IV","p":"**"},{"f":"POD","a":"CTL","b":"Cl III/IV","p":"****"},
{"f":"MES","a":"CTL","b":"Cl II","p":"ns"},{"f":"MES","a":"Cl II","b":"Cl III/IV","p":"ns"},{"f":"MES","a":"CTL","b":"Cl III/IV","p":"**"}
]
},
"resolve":{"scale":{"fill":"independent","color":"independent"},"legend":{"fill":"independent","color":"independent"}},
"vconcat":[
{
"data":{"name":"gsva"},
"transform":[
{"lookup":"f","from":{"data":{"name":"feats"},"key":"f","fields":["name","L","m"]}},
{"filter":"datum.L < 's'"},
{"lookup":"s","from":{"data":{"name":"samples"},"key":"s","fields":["g"]}},
{"calculate":"datum.g == 'CTL' ? 1 : datum.g == 'Cl II' ? 2 : 3","as":"gi"}
],
"facet":{"field":"name","type":"nominal","sort":["Glycolysis","PPP","TCA Cycle","OXPHOS","FAAO","FABO","AA Metabolism","Granulocyte","pDC","Dendritic Cell","Monocyte/MC","T Cell","B Cell","Plasma Cell","Platelet","Endothelial Cell","Fibroblast","Kidney Cell"],"header":{"title":null,"labelFontSize":12,"labelPadding":-11,"labelFont":"Liberation Sans"}},
"columns":6,
"spacing":{"row":10,"column":11},
"resolve":{"scale":{"y":"independent"},"axis":{"x":"independent","y":"independent"}},
"spec":{
"width":54,"height":89,
"layer":[
{"transform":[{"filter":"datum.a == 'CTL' && datum.b == 'Cl II'"}],"mark":{"type":"rule","strokeDash":[2,2],"color":"#555","strokeWidth":0.8},"encoding":{"y":{"datum":0,"type":"quantitative"}}},
{"transform":[{"filter":"datum.a == 'CTL' && datum.b == 'Cl II'"},{"calculate":"-datum.m","as":"lo"}],"mark":{"type":"point","opacity":0},"encoding":{"y":{"field":"lo","type":"quantitative","title":"GSVA Enrichment Score"}}},
{"transform":[{"filter":"isValid(datum.v)"},{"window":[{"op":"row_number","as":"rk"}],"groupby":["name","gi"],"sort":[{"field":"v","order":"ascending"}]},{"calculate":"datum.gi + (datum.rk % 3 == 0 ? 0.3 : datum.rk % 3 == 2 ? -0.3 : 0)","as":"px"}],
"mark":{"type":"circle","size":30,"stroke":"#1a1a1a","strokeWidth":0.8,"opacity":1},
"encoding":{
"x":{"field":"px","type":"quantitative","title":"LN GL","scale":{"domain":[0.45,3.45],"nice":false,"zero":false},"axis":{"values":[1,2,3],"labelExpr":"datum.value == 1 ? 'CTL' : datum.value == 2 ? 'Cl II' : 'Cl III/IV'","domain":false,"ticks":false,"grid":false,"labelFontSize":6.3,"labelPadding":2,"labelOverlap":false,"labelBound":false,"titleFontSize":6.5,"titleFontWeight":"normal","titlePadding":0,"titleX":33}},
"y":{"field":"v","type":"quantitative","title":"GSVA Enrichment Score","scale":{"nice":false,"zero":false},"axis":{"tickCount":5,"format":".1f","grid":false,"labelFontSize":7.5,"titleFontSize":6.5,"titleFontWeight":"normal","titlePadding":3,"tickSize":4,"titleColor":"#333"}},
"fill":{"field":"g","type":"nominal","scale":{"domain":["CTL","Cl II","Cl III/IV"],"range":["#ffffff","#66b266","#66b266"]},"legend":null}
}},
{"transform":[{"filter":"isValid(datum.v)"},{"aggregate":[{"op":"median","field":"v","as":"med"}],"groupby":["name","gi"]}],
"mark":{"type":"tick","orient":"horizontal","size":13,"thickness":1,"color":"#222"},
"encoding":{"x":{"field":"gi","type":"quantitative","title":"LN GL"},"y":{"field":"med","type":"quantitative","title":"GSVA Enrichment Score"}}},
{"transform":[{"filter":"isValid(datum.p)"},
{"calculate":"datum.a == 'CTL' ? 1 : datum.a == 'Cl II' ? 2 : 3","as":"ai"},
{"calculate":"datum.b == 'CTL' ? 1 : datum.b == 'Cl II' ? 2 : 3","as":"bi"},
{"calculate":"datum.bi - datum.ai == 1","as":"short"},
{"calculate":"(datum.short ? 1.045 : 0.87) * datum.m","as":"yl"},
{"calculate":"datum.short ? datum.ai + 0.07 : datum.ai","as":"x1"},
{"calculate":"datum.short ? datum.bi - 0.07 : datum.bi","as":"x2"},
{"calculate":"(datum.ai + datum.bi) / 2","as":"xm"}],
"layer":[
{"mark":{"type":"rule","strokeWidth":1.3,"color":"#000"},"encoding":{"x":{"field":"x1","type":"quantitative","title":"LN GL"},"x2":{"field":"x2"},"y":{"field":"yl","type":"quantitative","title":"GSVA Enrichment Score"}}},
{"mark":{"type":"text","fontSize":6.5,"baseline":"bottom","dy":-0.5},"encoding":{"x":{"field":"xm","type":"quantitative","title":"LN GL"},"y":{"field":"yl","type":"quantitative","title":"GSVA Enrichment Score"},"text":{"field":"p"}}}
]},
{"transform":[{"filter":"datum.a == 'CTL' && datum.b == 'Cl II'"},{"calculate":"1.045 * datum.m","as":"yt"}],"mark":{"type":"text","fontSize":11,"fontWeight":"bold","align":"left","baseline":"middle","dy":-17},"encoding":{"x":{"datum":-1.55,"type":"quantitative"},"y":{"field":"yt","type":"quantitative","title":"GSVA Enrichment Score"},"text":{"field":"L"}}}
]
}
},
{"hconcat":[
{
"data":{"name":"gsva"},
"transform":[
{"lookup":"f","from":{"data":{"name":"feats"},"key":"f","fields":["name","L","m"]}},
{"filter":"datum.L >= 's'"},
{"lookup":"s","from":{"data":{"name":"samples"},"key":"s","fields":["g"]}},
{"calculate":"datum.g == 'CTL' ? 1 : datum.g == 'Cl II' ? 2 : 3","as":"gi"}
],
"facet":{"field":"name","type":"nominal","sort":["Podocyte","Mesangial Cell"],"header":{"title":null,"labelFontSize":12,"labelPadding":-11,"labelFont":"Liberation Sans"}},
"columns":1,
"spacing":{"row":10,"column":11},
"resolve":{"scale":{"y":"independent"},"axis":{"x":"independent","y":"independent"}},
"spec":{
"width":54,"height":89,
"layer":[
{"transform":[{"filter":"datum.a == 'CTL' && datum.b == 'Cl II'"}],"mark":{"type":"rule","strokeDash":[2,2],"color":"#555","strokeWidth":0.8},"encoding":{"y":{"datum":0,"type":"quantitative"}}},
{"transform":[{"filter":"datum.a == 'CTL' && datum.b == 'Cl II'"},{"calculate":"-datum.m","as":"lo"}],"mark":{"type":"point","opacity":0},"encoding":{"y":{"field":"lo","type":"quantitative","title":"GSVA Enrichment Score"}}},
{"transform":[{"filter":"isValid(datum.v)"},{"window":[{"op":"row_number","as":"rk"}],"groupby":["name","gi"],"sort":[{"field":"v","order":"ascending"}]},{"calculate":"datum.gi + (datum.rk % 3 == 0 ? 0.3 : datum.rk % 3 == 2 ? -0.3 : 0)","as":"px"}],
"mark":{"type":"circle","size":30,"stroke":"#1a1a1a","strokeWidth":0.8,"opacity":1},
"encoding":{
"x":{"field":"px","type":"quantitative","title":"LN GL","scale":{"domain":[0.45,3.45],"nice":false,"zero":false},"axis":{"values":[1,2,3],"labelExpr":"datum.value == 1 ? 'CTL' : datum.value == 2 ? 'Cl II' : 'Cl III/IV'","domain":false,"ticks":false,"grid":false,"labelFontSize":6.3,"labelPadding":2,"labelOverlap":false,"labelBound":false,"titleFontSize":6.5,"titleFontWeight":"normal","titlePadding":0,"titleX":33}},
"y":{"field":"v","type":"quantitative","title":"GSVA Enrichment Score","scale":{"nice":false,"zero":false},"axis":{"tickCount":5,"format":".1f","grid":false,"labelFontSize":7.5,"titleFontSize":6.5,"titleFontWeight":"normal","titlePadding":3,"tickSize":4,"titleColor":"#333"}},
"fill":{"field":"g","type":"nominal","scale":{"domain":["CTL","Cl II","Cl III/IV"],"range":["#ffffff","#66b266","#66b266"]},"legend":null}
}},
{"transform":[{"filter":"isValid(datum.v)"},{"aggregate":[{"op":"median","field":"v","as":"med"}],"groupby":["name","gi"]}],
"mark":{"type":"tick","orient":"horizontal","size":13,"thickness":1,"color":"#222"},
"encoding":{"x":{"field":"gi","type":"quantitative","title":"LN GL"},"y":{"field":"med","type":"quantitative","title":"GSVA Enrichment Score"}}},
{"transform":[{"filter":"isValid(datum.p)"},
{"calculate":"datum.a == 'CTL' ? 1 : datum.a == 'Cl II' ? 2 : 3","as":"ai"},
{"calculate":"datum.b == 'CTL' ? 1 : datum.b == 'Cl II' ? 2 : 3","as":"bi"},
{"calculate":"datum.bi - datum.ai == 1","as":"short"},
{"calculate":"(datum.short ? 1.045 : 0.87) * datum.m","as":"yl"},
{"calculate":"datum.short ? datum.ai + 0.07 : datum.ai","as":"x1"},
{"calculate":"datum.short ? datum.bi - 0.07 : datum.bi","as":"x2"},
{"calculate":"(datum.ai + datum.bi) / 2","as":"xm"}],
"layer":[
{"mark":{"type":"rule","strokeWidth":1.3,"color":"#000"},"encoding":{"x":{"field":"x1","type":"quantitative","title":"LN GL"},"x2":{"field":"x2"},"y":{"field":"yl","type":"quantitative","title":"GSVA Enrichment Score"}}},
{"mark":{"type":"text","fontSize":6.5,"baseline":"bottom","dy":-0.5},"encoding":{"x":{"field":"xm","type":"quantitative","title":"LN GL"},"y":{"field":"yl","type":"quantitative","title":"GSVA Enrichment Score"},"text":{"field":"p"}}}
]},
{"transform":[{"filter":"datum.a == 'CTL' && datum.b == 'Cl II'"},{"calculate":"1.045 * datum.m","as":"yt"}],"mark":{"type":"text","fontSize":11,"fontWeight":"bold","align":"left","baseline":"middle","dy":-17},"encoding":{"x":{"datum":-1.55,"type":"quantitative"},"y":{"field":"yt","type":"quantitative","title":"GSVA Enrichment Score"},"text":{"field":"L"}}}
]
}
},
{
"width":410,"height":406,
"layer":[
{"data":{"name":"gsva"},"transform":[{"filter":"isValid(datum.v)"},{"lookup":"s","from":{"data":{"name":"samples"},"key":"s","fields":["o"]}},{"lookup":"f","from":{"data":{"name":"feats"},"key":"f","fields":["r"]}},{"calculate":"datum.o + 1","as":"o1"},{"calculate":"datum.r + 1","as":"r1"}],
"mark":{"type":"rect","strokeWidth":0},
"encoding":{
"x":{"field":"o","type":"quantitative","scale":{"domain":[-20.6,44],"nice":false,"zero":false},"axis":null},
"x2":{"field":"o1"},
"y":{"field":"r","type":"quantitative","scale":{"domain":[-10.26,20],"reverse":true,"nice":false,"zero":false},"axis":null},
"y2":{"field":"r1"},
"color":{"field":"v","type":"quantitative","scale":{"domain":[-0.8,0,0.8],"range":["#11918a","#ffffff","#ef654c"],"interpolate":"rgb","clamp":true},
"legend":{"orient":"none","legendX":27,"legendY":68,"direction":"horizontal","gradientLength":96,"gradientThickness":17,"title":"GSVA Enrichment Score","titleOrient":"bottom","titleFontSize":7,"titleFontWeight":"normal","titleAnchor":"middle","titlePadding":3,"labelFontSize":7,"values":[-0.5,0,0.5],"labelExpr":"datum.value == 0 ? '0' : format(datum.value, '.1f')","gradientStrokeColor":"#777","gradientStrokeWidth":0.5}}
}},
{"data":{"name":"samples"},"transform":[{"calculate":"datum.o + 1","as":"o1"}],"mark":{"type":"rect"},
"encoding":{"x":{"field":"o","type":"quantitative"},"x2":{"field":"o1"},"y":{"datum":-1.22},"y2":{"datum":-0.25},"fill":{"field":"k","type":"nominal","scale":{"domain":[1,2,3,4],"range":["#f7e51f","#2e6a8e","#461a5b","#34b37a"]},"legend":null}}},
{"data":{"name":"cden"},"transform":[{"calculate":"-1.62 - 0.886 * datum.h","as":"yn"},{"calculate":"-1.62 - 0.886 * datum.hl","as":"yl"},{"calculate":"-1.62 - 0.886 * datum.hr","as":"yr"}],
"layer":[
{"mark":{"type":"rule","color":"#555","strokeWidth":1},"encoding":{"x":{"field":"xl","type":"quantitative"},"x2":{"field":"xr"},"y":{"field":"yn","type":"quantitative"}}},
{"mark":{"type":"rule","color":"#555","strokeWidth":1},"encoding":{"x":{"field":"xl","type":"quantitative"},"y":{"field":"yn","type":"quantitative"},"y2":{"field":"yl"}}},
{"mark":{"type":"rule","color":"#555","strokeWidth":1},"encoding":{"x":{"field":"xr","type":"quantitative"},"y":{"field":"yn","type":"quantitative"},"y2":{"field":"yr"}}}
]},
{"data":{"name":"rden"},"transform":[{"calculate":"-0.95 - 1.94 * datum.h","as":"xn"},{"calculate":"-0.95 - 1.94 * datum.ht","as":"xt"},{"calculate":"-0.95 - 1.94 * datum.hb","as":"xb"}],
"layer":[
{"mark":{"type":"rule","color":"#555","strokeWidth":1},"encoding":{"x":{"field":"xn","type":"quantitative"},"y":{"field":"yt","type":"quantitative"},"y2":{"field":"yb"}}},
{"mark":{"type":"rule","color":"#555","strokeWidth":1},"encoding":{"x":{"field":"xn","type":"quantitative"},"x2":{"field":"xt"},"y":{"field":"yt","type":"quantitative"}}},
{"mark":{"type":"rule","color":"#555","strokeWidth":1},"encoding":{"x":{"field":"xn","type":"quantitative"},"x2":{"field":"xb"},"y":{"field":"yb","type":"quantitative"}}}
]},
{"data":{"name":"feats"},"transform":[{"calculate":"datum.r + 0.5","as":"rc"}],"mark":{"type":"text","align":"left","baseline":"middle","fontSize":6},"encoding":{"x":{"datum":44.8},"y":{"field":"rc","type":"quantitative"},"text":{"field":"name"}}},
{"data":{"name":"samples"},"transform":[{"calculate":"datum.o + 0.5","as":"oc"}],"mark":{"type":"text","angle":270,"align":"right","baseline":"middle","fontSize":5.2},"encoding":{"x":{"field":"oc","type":"quantitative"},"y":{"datum":20.35},"text":{"field":"n"}}}
]
}
],"spacing":60,"resolve":{"scale":{"fill":"independent","color":"independent"},"legend":{"fill":"independent","color":"independent"}}}
],
"spacing":10
}
